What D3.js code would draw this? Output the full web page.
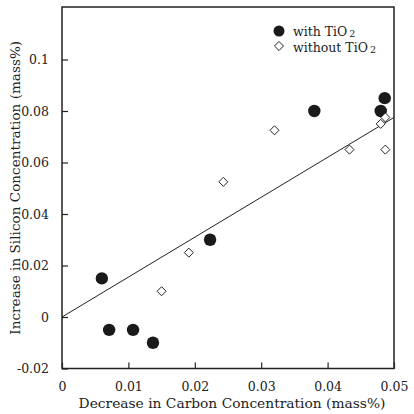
<!DOCTYPE html>
<html><head><meta charset="utf-8">
<script src="https://cdn.jsdelivr.net/npm/d3@7"></script>
<style>body{margin:0;background:#fff}svg{display:block}</style>
</head><body>
<svg id="c" width="414" height="414"></svg>
<script>
const withX = [0.006, 0.0071, 0.0107, 0.0137, 0.0223, 0.038, 0.048, 0.0486];
const withY = [0.015, -0.005, -0.005, -0.010, 0.030, 0.080, 0.080, 0.085];
const withoutX = [0.015, 0.0191, 0.0243, 0.032, 0.0433, 0.048, 0.0487, 0.0487];
const withoutY = [0.010, 0.025, 0.0525, 0.0725, 0.065, 0.075, 0.0775, 0.065];
const fitX = [0, 0.05];
const fitY = [0, 0.0775];
const xTicks = [0, 0.01, 0.02, 0.03, 0.04, 0.05];
const yTicks = [-0.02, 0, 0.02, 0.04, 0.06, 0.08, 0.1];
const xTickLabels = ["0", "0.01", "0.02", "0.03", "0.04", "0.05"];
const yTickLabels = ["-0.02", "0", "0.02", "0.04", "0.06", "0.08", "0.1"];

const font = "'DejaVu Serif', 'Liberation Serif', serif";
const svg = d3.select("#c");
const L = 62, R = 394, T = 7, B = 368.5;
const x = d3.scaleLinear().domain([0, 0.05]).range([L, R]);
const y = d3.scaleLinear().domain([-0.02, 0.12]).range([B, 8]);

svg.append("rect").attr("x", L).attr("y", T).attr("width", R - L).attr("height", B - T)
  .attr("fill", "none").attr("stroke", "#222").attr("stroke-width", 1.5);

const xa = svg.append("g").attr("transform", `translate(0,${B})`)
  .call(d3.axisBottom(x).tickValues(xTicks).tickSizeInner(-6).tickSizeOuter(0).tickPadding(14)
    .tickFormat((d, i) => xTickLabels[i]));
const ya = svg.append("g").attr("transform", `translate(${L},0)`)
  .call(d3.axisLeft(y).tickValues(yTicks).tickSizeInner(-6).tickSizeOuter(0).tickPadding(13)
    .tickFormat((d, i) => yTickLabels[i]));
[xa, ya].forEach(a => {
  a.select(".domain").remove();
  a.selectAll("line").attr("stroke", "#222").attr("stroke-width", 1.2);
  a.selectAll("text").attr("font-family", font).attr("font-size", 12.5).attr("fill", "#222");
});

svg.append("clipPath").attr("id", "pc").append("rect")
  .attr("x", L).attr("y", T).attr("width", R - L).attr("height", B - T);

svg.append("line").attr("clip-path", "url(#pc)")
  .attr("x1", x(fitX[0])).attr("y1", y(fitY[0])).attr("x2", x(fitX[1])).attr("y2", y(fitY[1]))
  .attr("stroke", "#222").attr("stroke-width", 1);

svg.append("g").selectAll("circle").data(withX).join("circle")
  .attr("cx", d => x(d)).attr("cy", (d, i) => y(withY[i])).attr("r", 6.2)
  .attr("fill", "#1a1a1a");

const dia = d3.symbol().type(d3.symbolDiamond2).size(52);
svg.append("g").selectAll("path").data(withoutX).join("path")
  .attr("d", dia)
  .attr("transform", (d, i) => `translate(${x(d)},${y(withoutY[i])})`)
  .attr("fill", "#fff").attr("stroke", "#222").attr("stroke-width", 1);

// legend
const lg = svg.append("g");
lg.append("circle").attr("cx", 279).attr("cy", 31).attr("r", 5.5).attr("fill", "#1a1a1a");
lg.append("path").attr("d", dia).attr("transform", "translate(279,46)")
  .attr("fill", "#fff").attr("stroke", "#222").attr("stroke-width", 1);
[["with TiO", 35.5], ["without TiO", 51.5]].forEach(([t, yy]) => {
  const tx = lg.append("text").attr("x", 293).attr("y", yy).attr("font-family", font)
    .attr("font-size", 12.5).attr("fill", "#222");
  tx.append("tspan").text(t);
  tx.append("tspan").attr("dx", 2).attr("dy", 1.5).attr("font-size", 9.5).text("2");
});

svg.append("text").attr("x", (L + R) / 2 + 4).attr("y", 408).attr("text-anchor", "middle")
  .attr("font-family", font).attr("font-size", 13.8).attr("fill", "#222")
  .text("Decrease in Carbon Concentration (mass%)");
svg.append("text").attr("transform", `translate(15,${(T + B) / 2}) rotate(-90)`)
  .attr("text-anchor", "middle").attr("dy", "0.35em")
  .attr("font-family", font).attr("font-size", 13.6).attr("fill", "#222")
  .text("Increase in Silicon Concentration (mass%)");
</script>
</body></html>
